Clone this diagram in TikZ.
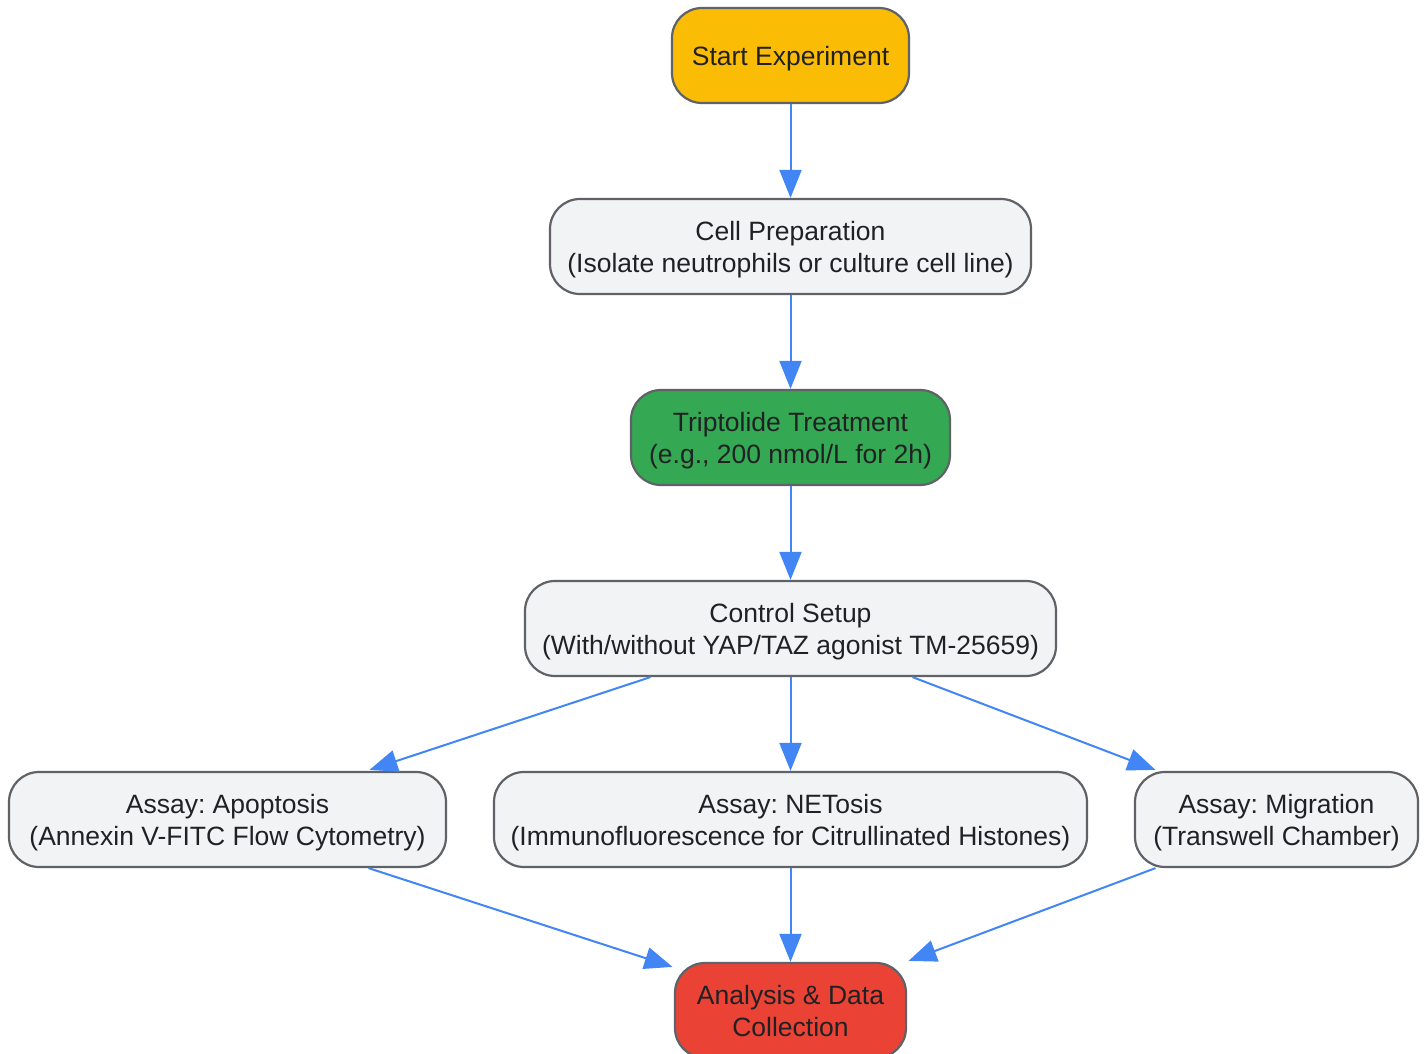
\documentclass[tikz,border=0pt]{standalone}
\usepackage{fontspec}
\setmainfont{Liberation Sans}
\usetikzlibrary{arrows.meta,calc}
\frenchspacing
\definecolor{cyel}{HTML}{FBBC05}
\definecolor{cgrn}{HTML}{34A853}
\definecolor{cred}{HTML}{EA4335}
\definecolor{cgry}{HTML}{F1F3F4}
\definecolor{cbrd}{HTML}{5F6368}
\definecolor{cedge}{HTML}{4285F4}
\definecolor{ctxt}{HTML}{202124}
\begin{document}
\begin{tikzpicture}[x=1pt,y=-1pt,
  box/.style={draw=cbrd, line width=2.2pt, rounded corners=30pt, fill=cgry,
    minimum height=95pt, inner sep=0pt, align=center, text=ctxt, text depth=0pt,
    font=\fontsize{26.5}{32}\selectfont\frenchspacing},
  flow/.style={draw=cedge, line width=2pt, -{Triangle[length=28pt,width=22pt]}}]
\useasboundingbox (0,0) rectangle (1428,1054);
\node[box, fill=cyel, minimum width=237pt] (start) at (790.5,55.5) {Start Experiment};
\node[box, minimum width=481pt] (cell) at (790.5,246.5) {Cell Preparation\\(Isolate neutrophils or culture cell line)};
\node[box, fill=cgrn, minimum width=319pt] (trip) at (790.5,437.5) {Triptolide Treatment\\(e.g., 200 nmol/L for 2h)};
\node[box, minimum width=531pt] (ctrl) at (790.5,628.5) {Control Setup\\(With/without YAP/TAZ agonist TM-25659)};
\node[box, minimum width=437pt] (apop) at (227.5,819.5) {Assay: Apoptosis\\(Annexin V-FITC Flow Cytometry)};
\node[box, minimum width=593pt] (net) at (790.5,819.5) {Assay: NETosis\\(Immunofluorescence for Citrullinated Histones)};
\node[box, minimum width=283pt] (mig) at (1276.5,819.5) {Assay: Migration\\(Transwell Chamber)};
\node[box, fill=cred, minimum width=231pt] (ana) at (790.5,1010.5) {Analysis \& Data\\Collection};
\draw[flow] (start) -- (cell);
\draw[flow] (cell) -- (trip);
\draw[flow] (trip) -- (ctrl);
\draw[flow] ($(ctrl.south)+(-140,0)$) -- ($(apop.north)+(142,-1)$);
\draw[flow] (ctrl) -- (net);
\draw[flow] ($(ctrl.south)+(122,0)$) -- ($(mig.north)+(-121,-1)$);
\draw[flow] ($(apop.south)+(141,0)$) -- ($(ana.north)+(-118,5)$);
\draw[flow] (net) -- (ana);
\draw[flow] ($(mig.south)+(-121,0)$) -- ($(ana.north)+(118,-1)$);
\end{tikzpicture}
\end{document}
